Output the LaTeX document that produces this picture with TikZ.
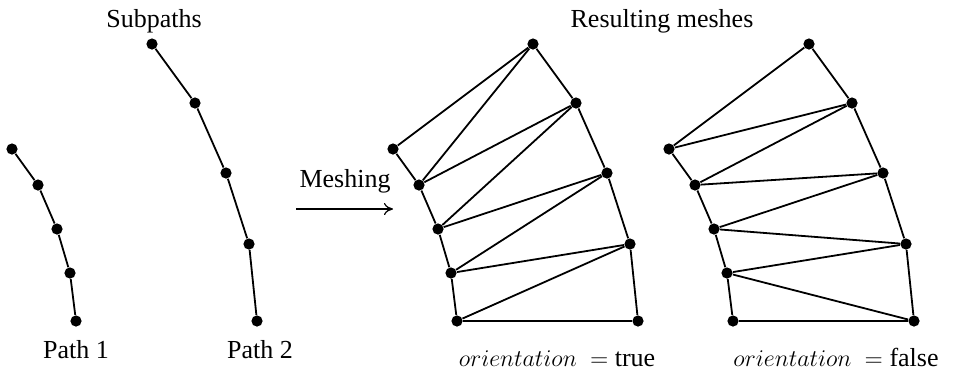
\documentclass[tikz,border=0pt]{standalone}
\usepackage{fontspec}
\setmainfont{Liberation Serif}
\usetikzlibrary{arrows.meta}
\begin{document}
\begin{tikzpicture}[x=0.5pt,y=-0.5pt,
  vtx/.style={circle,fill=black,inner sep=0pt,minimum size=5.6pt},
  edge/.style={line width=0.9pt},
  lbl/.style={font=\fontsize{13}{15}\selectfont,anchor=base,inner sep=0pt}]
\useasboundingbox (0,0) rectangle (953,372);

% vertices of the two subpaths and their copies in both meshes
\foreach \i/\x/\y in {1/12/149,2/38/185,3/57/229,4/70/273,5/76/321} {
  \node[vtx] (a\i) at (\x,\y) {};
  \node[vtx] (ma\i) at (\x+381,\y) {};
  \node[vtx] (na\i) at (\x+657,\y) {};
}
\foreach \i/\x/\y in {1/152/44,2/195/103,3/226/173,4/249/244,5/257/321} {
  \node[vtx] (b\i) at (\x,\y) {};
  \node[vtx] (mb\i) at (\x+381,\y) {};
  \node[vtx] (nb\i) at (\x+657,\y) {};
}

% subpaths
\draw[edge] (a1)--(a2)--(a3)--(a4)--(a5);
\draw[edge] (b1)--(b2)--(b3)--(b4)--(b5);

% mesh with orientation = true
\draw[edge] (ma1)--(ma2)--(ma3)--(ma4)--(ma5);
\draw[edge] (mb1)--(mb2)--(mb3)--(mb4)--(mb5);
\foreach \i/\j in {1/1,2/1,2/2,3/2,3/3,4/3,4/4,5/4,5/5}
  \draw[edge] (ma\i)--(mb\j);

% mesh with orientation = false
\draw[edge] (na1)--(na2)--(na3)--(na4)--(na5);
\draw[edge] (nb1)--(nb2)--(nb3)--(nb4)--(nb5);
\foreach \i/\j in {1/1,1/2,2/2,2/3,3/3,3/4,4/4,4/5,5/5}
  \draw[edge] (na\i)--(nb\j);

% meshing arrow
\coordinate (arrS) at (296,209);
\coordinate (arrE) at (393,209);
\draw[-{To[length=4.5pt,width=6pt]},line width=0.6pt] (arrS) -- (arrE);

% labels
\node[lbl] (tsub) at (154,27) {Subpaths};
\node[lbl] (tres) at (662,27) {Resulting meshes};
\node[lbl] (tp1) at (76,358) {Path 1};
\node[lbl] (tp2) at (260,358) {Path 2};
\node[lbl] (tmesh) at (345,187) {Meshing};
\node[lbl] (ttrue) at (557,366) {$orientation\ =$ true};
\node[lbl] (tfalse) at (836,366) {$orientation\ =$ false};
\end{tikzpicture}
\end{document}
